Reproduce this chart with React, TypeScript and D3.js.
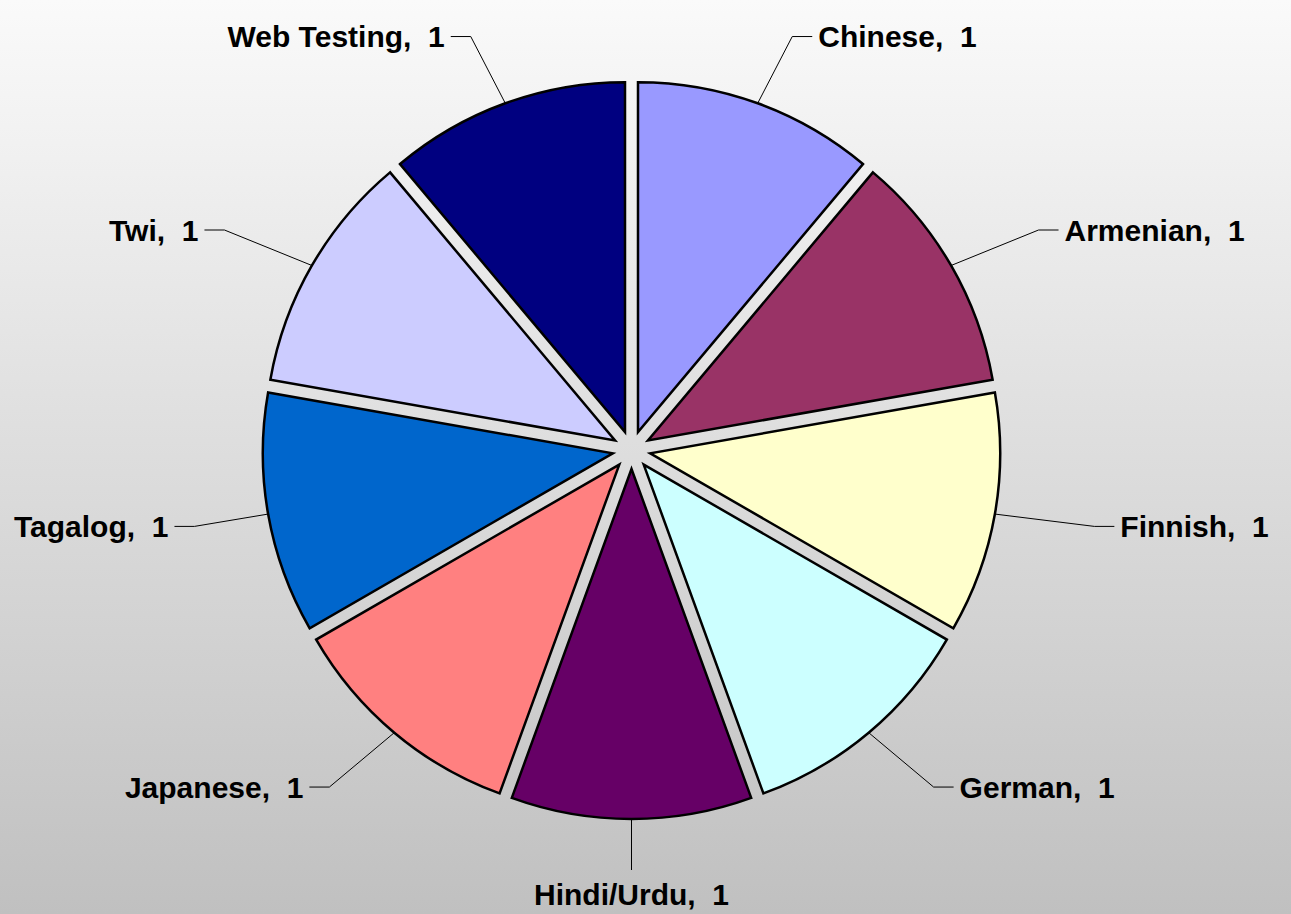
import React from 'react';
import * as d3 from 'd3';

const categories = ['Chinese', 'Armenian', 'Finnish', 'German', 'Hindi/Urdu', 'Japanese', 'Tagalog', 'Twi', 'Web Testing'];
const values = [1, 1, 1, 1, 1, 1, 1, 1, 1];
const colors = ['#9999FF', '#993366', '#FFFFCC', '#CCFFFF', '#660066', '#FF8080', '#0066CC', '#CCCCFF', '#000080'];

const W = 1291;
const H = 914;
const CX = 631.5;
const CY = 450;
const R = 350;
const EXPLODE = 19;
const LABEL_RX = 470;
const LABEL_RY = 440;
const FONT = '"Liberation Sans", Arial, Helvetica, sans-serif';
const FONT_SIZE = 30;

function measure(text: string): number {
  try {
    const c = document.createElement('canvas').getContext('2d');
    if (c) {
      c.font = `bold ${FONT_SIZE}px "Liberation Sans", Arial, sans-serif`;
      return c.measureText(text).width;
    }
  } catch (e) {}
  return text.length * FONT_SIZE * 0.55;
}

export default function App() {
  const data = categories.map((c, i) => ({ name: c, value: values[i], color: colors[i] }));
  const pie = d3.pie<any>().sort(null).value((d: any) => d.value).startAngle(0).endAngle(2 * Math.PI);
  const arcs = pie(data);
  const arcGen = d3.arc<any>().innerRadius(0).outerRadius(R);

  return (
    <svg width={W} height={H} style={{ position: 'absolute', left: 0, top: 0, display: 'block' }}>
      <defs>
        <linearGradient id="bg" x1="0" y1="0" x2="0" y2="1">
          <stop offset="0" stopColor="#fafafa" />
          <stop offset="1" stopColor="#c0c0c0" />
        </linearGradient>
      </defs>
      <rect x={0} y={0} width={W} height={H} fill="url(#bg)" />
      {arcs.map((a, i) => {
        const mid = (a.startAngle + a.endAngle) / 2;
        const ox = CX + EXPLODE * Math.sin(mid);
        const oy = CY - EXPLODE * Math.cos(mid);
        return (
          <g key={'s' + i} transform={`translate(${ox},${oy})`}>
            <path d={arcGen(a) as string} fill={a.data.color} stroke="#000" strokeWidth={2.5} strokeLinejoin="miter" />
          </g>
        );
      })}
      {arcs.map((a, i) => {
        const mid = (a.startAngle + a.endAngle) / 2;
        const sx = Math.sin(mid);
        const sy = -Math.cos(mid);
        const ox = CX + EXPLODE * sx;
        const oy = CY + EXPLODE * sy;
        const px = ox + R * sx;
        const py = oy + R * sy;
        let ex = CX + LABEL_RX * sx;
        let ey = CY + LABEL_RY * sy;
        ey = Math.max(24, Math.min(870, ey));
        const label = `${a.data.name},  ${a.data.value}`;
        if (Math.abs(sx) < 0.1) {
          return (
            <g key={'l' + i}>
              <line x1={px} y1={py} x2={px} y2={ey} stroke="#000" strokeWidth={1} />
              <text x={px} y={ey + 35} textAnchor="middle" fontFamily={FONT} fontWeight="bold" fontSize={FONT_SIZE} fill="#000" style={{ whiteSpace: 'pre' }}>{label}</text>
            </g>
          );
        }
        const dir = sx > 0 ? 1 : -1;
        const tw = measure(label);
        if (dir > 0) ex = Math.min(ex, W - 8 - tw - 26);
        else ex = Math.max(ex, 14 + tw + 26);
        const hx = ex + dir * 20;
        return (
          <g key={'l' + i}>
            <polyline points={`${px},${py} ${ex},${ey} ${hx},${ey}`} fill="none" stroke="#000" strokeWidth={1} />
            <text x={hx + dir * 6} y={ey} dy="0.36em" textAnchor={dir > 0 ? 'start' : 'end'} fontFamily={FONT} fontWeight="bold" fontSize={FONT_SIZE} fill="#000" style={{ whiteSpace: 'pre' }}>{label}</text>
          </g>
        );
      })}
    </svg>
  );
}
